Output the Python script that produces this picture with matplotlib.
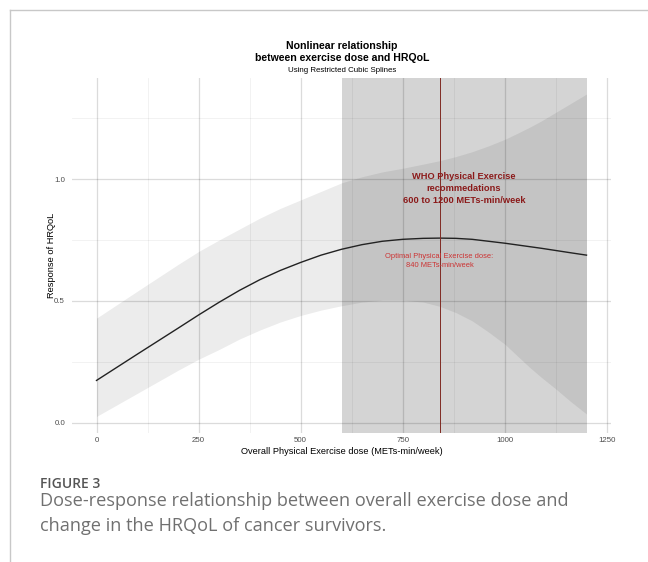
"""
Dose-response curve (restricted cubic spline) between overall exercise dose
and HRQoL, with the WHO recommended range shaded.
"""
import numpy as np
import matplotlib.pyplot as plt
from matplotlib.lines import Line2D

# values
dose = [0, 100, 200, 250, 300, 350, 400, 450, 500, 550, 600, 650, 700, 750, 800,
        840, 880, 920, 960, 1000, 1030, 1060, 1090, 1125, 1160, 1200]
response = [0.173, 0.281, 0.388, 0.442, 0.494, 0.543, 0.587, 0.625, 0.658, 0.688,
            0.712, 0.731, 0.745, 0.753, 0.757, 0.758, 0.757, 0.753, 0.745, 0.737,
            0.730, 0.723, 0.716, 0.707, 0.698, 0.688]
upper_ci = [0.429, 0.54, 0.65, 0.703, 0.75, 0.795, 0.84, 0.88, 0.915, 0.95,
            0.985, 1.01, 1.03, 1.045, 1.062, 1.076, 1.093, 1.113, 1.137, 1.164,
            1.188, 1.213, 1.24, 1.275, 1.31, 1.35]
lower_ci = [0.025, 0.12, 0.215, 0.26, 0.30, 0.343, 0.38, 0.413, 0.44, 0.462,
            0.48, 0.495, 0.503, 0.503, 0.495, 0.478, 0.452, 0.418, 0.372, 0.322,
            0.275, 0.228, 0.185, 0.138, 0.088, 0.035]

who_range = (600, 1200)
optimal_dose = 840
x_ticks = [0, 250, 500, 750, 1000, 1250]
y_ticks = [0.0, 0.5, 1.0]

W, H = 648, 562
fig = plt.figure(figsize=(W / 100, H / 100), dpi=100)
plt.rcParams['font.family'] = ['Liberation Sans', 'DejaVu Sans']

# panel placed in pixel terms (left, top, right, bottom)
left, top, right, bottom = 72, 78, 611, 433
ax = fig.add_axes([left / W, 1 - bottom / H, (right - left) / W, (bottom - top) / H])

ax.fill_between(dose, lower_ci, upper_ci, color='black', alpha=0.075, lw=0, zorder=1)
ax.axvspan(*who_range, color='black', alpha=0.17, lw=0, zorder=1)
ax.plot(dose, response, color='#222222', lw=1.0, zorder=3)
ax.axvline(optimal_dose, color='#7F2A22', lw=0.7, zorder=3)

ax.text(900, 0.963, 'WHO Physical Exercise\nrecommedations\n600 to 1200 METs-min/week',
        ha='center', va='center', color='#8B1A1A', fontsize=6.7,
        fontweight='bold', linespacing=1.45, zorder=4)
ax.text(optimal_dose, 0.663, 'Optimal Physical Exercise dose:\n840 METs-min/week',
        ha='center', va='center', color='#CC3333', fontsize=5.4,
        linespacing=1.45, zorder=4)

ax.set_xlim(-60, 1260)
ax.set_ylim(-0.043, 1.416)
ax.set_xticks(x_ticks)
ax.set_yticks(y_ticks)
ax.set_xticks([125, 375, 625, 875, 1125], minor=True)
ax.set_yticks([0.25, 0.75, 1.25], minor=True)
ax.set_yticklabels([f'{v:.1f}' for v in y_ticks])
ax.tick_params(which='both', length=0, labelsize=5.7, labelcolor='#4D4D4D')
ax.tick_params(axis='y', pad=5)
ax.tick_params(axis='x', pad=3)
ax.grid(which='major', color='black', alpha=0.14, lw=0.9)
ax.grid(which='minor', color='black', alpha=0.06, lw=0.6)
ax.set_axisbelow(False)
for s in ax.spines.values():
    s.set_visible(False)

ax.set_xlabel('Overall Physical Exercise dose (METs-min/week)', fontsize=6.7, labelpad=2)
ax.set_ylabel('Response of HRQoL', fontsize=6.7, labelpad=-1.5)

# titles
fig.text(342 / W, 1 - 52 / H, 'Nonlinear relationship\nbetween exercise dose and HRQoL',
         ha='center', va='center', fontsize=7.6, fontweight='bold', linespacing=1.15)
fig.text(342 / W, 1 - 70 / H, 'Using Restricted Cubic Splines',
         ha='center', va='center', fontsize=5.7)

# caption block
cap_font = ['Open Sans', 'DejaVu Sans']
fig.text(40 / W, 1 - 487.5 / H, 'FIGURE 3', ha='left', va='baseline',
         fontsize=10, fontweight='semibold', color='#555555', family=cap_font)
fig.text(40 / W, 1 - 505.5 / H,
         'Dose-response relationship between overall exercise dose and',
         ha='left', va='baseline', fontsize=13.1, color='#707070', family=cap_font)
fig.text(40 / W, 1 - 531 / H, 'change in the HRQoL of cancer survivors.',
         ha='left', va='baseline', fontsize=13.1, color='#707070', family=cap_font)

# page frame
fig.add_artist(Line2D([9.5 / W, 1], [1 - 9.5 / H] * 2, color='#C8C8C8', lw=1))
fig.add_artist(Line2D([9.5 / W] * 2, [0, 1 - 9.5 / H], color='#C8C8C8', lw=1))

fig.savefig('out.png', dpi=100)
plt.close(fig)
